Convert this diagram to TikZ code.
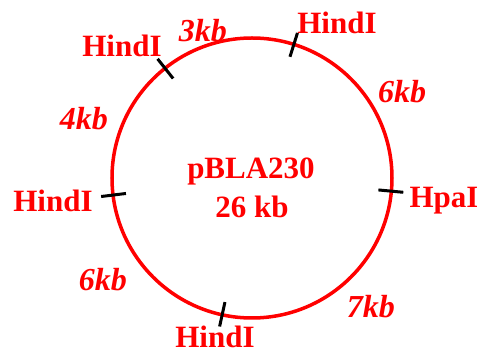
\documentclass[tikz,border=0pt]{standalone}
\usepackage{fontspec}
\setmainfont{Liberation Serif}
\usepackage{tikz}
\definecolor{mapred}{RGB}{255, 0, 0}
\tikzset{
    site/.style={text=mapred, anchor=base, inner sep=0pt,
        font=\fontsize{31}{37}\selectfont\bfseries},
    frag/.style={text=mapred, anchor=base, inner sep=0pt,
        font=\fontsize{32}{38}\selectfont\bfseries\itshape}
}

\begin{document}
\begin{tikzpicture}[x=1pt, y=1pt]

    \useasboundingbox (-252, -177) rectangle (225, 178);

    \draw[mapred, line width=3.5pt] (0, 0) circle (140);

    % cut sites
    \foreach \ang in {72.6, 128.4, 187, 257.7, -5.4} {%
        \draw[black, line width=3pt] (\ang:127) -- (\ang:152);
    };

    \node[site] (hindA) at (85, 144) {HindI};
    \node[site] (hindB) at (-130, 121) {HindI};
    \node[site] (hindC) at (-199, -34) {HindI};
    \node[site] (hindD) at (-37, -170) {HindI};
    \node[site] (hpa) at (192, -30) {HpaI};

    % fragment sizes
    \node[frag] (fragA) at (-49, 136) {3kb};
    \node[frag] (fragB) at (150, 75) {6kb};
    \node[frag] (fragC) at (-168, 48) {4kb};
    \node[frag] (fragD) at (-149, -113) {6kb};
    \node[frag] (fragE) at (119, -140) {7kb};

    \node[site] (plasmid) at (-1, -1) {pBLA230};
    \node[site] (size) at (0, -40) {26 kb};

\end{tikzpicture}
\end{document}
